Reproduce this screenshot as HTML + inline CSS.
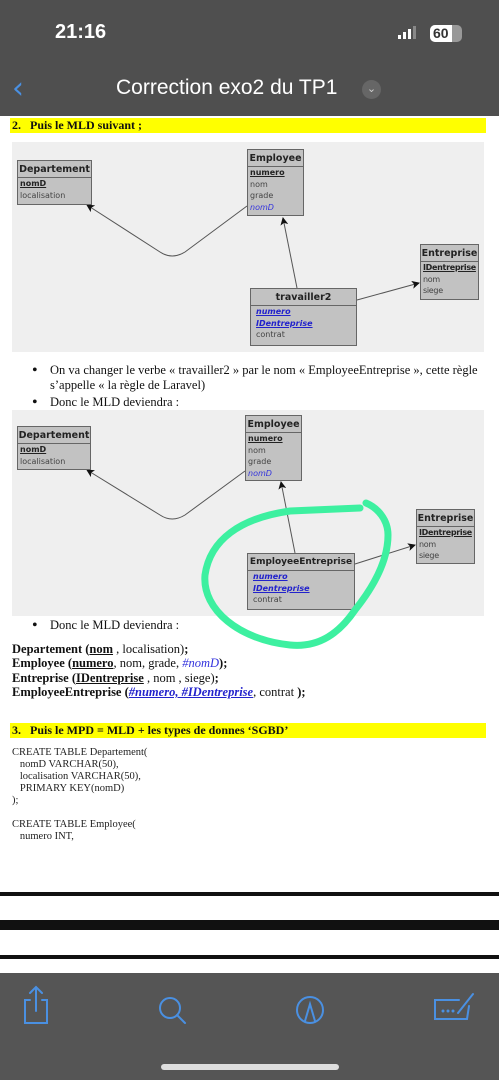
<!DOCTYPE html>
<html><head><meta charset="utf-8"><style>
*{margin:0;padding:0;box-sizing:border-box}
body{width:499px;height:1080px;position:relative;background:#fff;overflow:hidden;font-family:"Liberation Serif",serif;color:#111}
.a{position:absolute}
.hdr{left:0;top:0;width:499px;height:116px;background:#4f4f4f}
.y{background:#ffff00;font-weight:bold;font-size:12px;line-height:15px;padding-left:2px}
.bg{background:#efefef}
.bx{position:absolute;background:#c2c2c2;border:1px solid #666;font-family:"DejaVu Sans","Liberation Sans",sans-serif;font-size:8px;color:#444;line-height:11.5px;overflow:hidden;white-space:nowrap}
.bx .h{border-bottom:1px solid #666;text-align:center;font-weight:bold;color:#222;font-size:9.5px;height:17px;line-height:17px}
.bx .r{padding-left:2px}
.u{text-decoration:underline;font-weight:bold;color:#222}
.fk{color:#3333dd;font-style:italic}
.fku{color:#2222cc;font-style:italic;font-weight:bold;text-decoration:underline}
.t{font-size:12.5px;line-height:15px}
.bul{font-size:16px;line-height:15px}
.m{font-size:12.5px;line-height:14.5px;font-weight:bold}
.c{font-size:10.5px;line-height:12px;color:#222}
</style></head><body>
<div class="a hdr"></div>
<div class="a" style="left:55px;top:21px;color:#fff;font:600 20px 'Liberation Sans',sans-serif">21:16</div>
<div class="a" style="left:398px;top:35px;width:3px;height:4px;background:#fff"></div>
<div class="a" style="left:403px;top:32px;width:3px;height:7px;background:#fff"></div>
<div class="a" style="left:408px;top:29px;width:3px;height:10px;background:#fff"></div>
<div class="a" style="left:413px;top:26px;width:3px;height:13px;background:#888"></div>
<div class="a" style="left:430px;top:25px;width:32px;height:17px;border-radius:5px;background:#999"></div>
<div class="a" style="left:430px;top:25px;width:22px;height:17px;border-radius:5px 0 0 5px;background:#fff;color:#333;font:bold 14px/17px 'Liberation Sans',sans-serif;padding-left:3px">60</div>
<div class="a" style="left:12px;top:74px;color:#4a90e2;font:30px/30px 'DejaVu Sans',sans-serif">&#8249;</div>
<div class="a" style="left:116px;top:76px;color:#fff;font:21px 'Liberation Sans',sans-serif">Correction exo2 du TP1</div>
<div class="a" style="left:362px;top:80px;width:19px;height:19px;border-radius:50%;background:#666;color:#ccc;font:11px/19px sans-serif;text-align:center">&#8964;</div>

<div class="a y" style="left:10px;top:118px;width:476px;height:15px">2.&nbsp;&nbsp; Puis le MLD suivant ;</div>
<div class="a bg" style="left:12px;top:142px;width:472px;height:210px"></div>
<div class="a bg" style="left:12px;top:410px;width:472px;height:206px"></div>

<svg class="a" style="left:0;top:0" width="499" height="1080">
<defs><marker id="ar" markerWidth="8" markerHeight="8" refX="7" refY="4" orient="auto"><path d="M0,0 L8,4 L0,8 L2,4z" fill="#111"/></marker></defs>
<g stroke="#555" stroke-width="1" fill="none">
<path d="M247,206 L185,252 Q172,260 160,252 L87,205" marker-end="url(#ar)"/>
<path d="M297,288 L283,218" marker-end="url(#ar)"/>
<path d="M357,300 L419,283" marker-end="url(#ar)"/>
<path d="M245,471 L185,515 Q172,523 160,515 L87,470" marker-end="url(#ar)"/>
<path d="M295,553 L281,482" marker-end="url(#ar)"/>
<path d="M355,564 L415,545" marker-end="url(#ar)"/>
</g>
</svg>

<div class="bx" style="left:17px;top:160px;width:75px;height:45px"><div class="h">Departement</div><div class="r"><span class="u">nomD</span><br>localisation</div></div>
<div class="bx" style="left:247px;top:149px;width:57px;height:67px"><div class="h">Employee</div><div class="r"><span class="u">numero</span><br>nom<br>grade<br><span class="fk">nomD</span></div></div>
<div class="bx" style="left:420px;top:244px;width:59px;height:56px"><div class="h">Entreprise</div><div class="r" style="letter-spacing:-0.3px"><span class="u">IDentreprise</span><br>nom<br>siege</div></div>
<div class="bx" style="left:250px;top:288px;width:107px;height:58px"><div class="h">travailler2</div><div class="r" style="padding-left:5px"><span class="fku">numero</span><br><span class="fku">IDentreprise</span><br>contrat</div></div>

<div class="a bul" style="left:32px;top:363px">&#8226;</div>
<div class="a t" style="left:50px;top:363px;width:440px">On va changer le verbe « travailler2 » par le nom « EmployeeEntreprise », cette règle s’appelle « la règle de Laravel)</div>
<div class="a bul" style="left:32px;top:395px">&#8226;</div>
<div class="a t" style="left:50px;top:395px">Donc le MLD deviendra :</div>

<div class="bx" style="left:17px;top:426px;width:74px;height:44px"><div class="h">Departement</div><div class="r"><span class="u">nomD</span><br>localisation</div></div>
<div class="bx" style="left:245px;top:415px;width:57px;height:66px"><div class="h">Employee</div><div class="r"><span class="u">numero</span><br>nom<br>grade<br><span class="fk">nomD</span></div></div>
<div class="bx" style="left:416px;top:509px;width:59px;height:55px"><div class="h">Entreprise</div><div class="r" style="letter-spacing:-0.3px"><span class="u">IDentreprise</span><br>nom<br>siege</div></div>
<div class="bx" style="left:247px;top:553px;width:108px;height:57px"><div class="h" style="font-size:9px">EmployeeEntreprise</div><div class="r" style="padding-left:5px"><span class="fku">numero</span><br><span class="fku">IDentreprise</span><br>contrat</div></div>

<svg class="a" style="left:0;top:0" width="499" height="1080">
<path d="M360,508 L290,511 C240,518 210,540 205,575 C202,610 240,640 290,645 C320,648 340,632 355,610 C375,585 388,560 388,535 C388,520 378,508 366,503" fill="none" stroke="#3df0a0" stroke-width="7" stroke-linecap="round"/>
</svg>

<div class="a bul" style="left:32px;top:618px">&#8226;</div>
<div class="a t" style="left:50px;top:618px">Donc le MLD deviendra :</div>

<div class="a m" style="left:12px;top:642px">Departement (<u>nom</u> <span style="font-weight:normal">, localisation)</span>;</div>
<div class="a m" style="left:12px;top:656px">Employee (<u>numero</u><span style="font-weight:normal">, nom, grade, </span><i style="font-weight:normal;color:#3333dd">#nomD</i>);</div>
<div class="a m" style="left:12px;top:670.5px">Entreprise (<u>IDentreprise</u> <span style="font-weight:normal">, nom , siege)</span>;</div>
<div class="a m" style="left:12px;top:685px">EmployeeEntreprise (<i style="color:#2222cc;text-decoration:underline">#numero, #IDentreprise</i><span style="font-weight:normal">, contrat </span>);</div>

<div class="a y" style="left:10px;top:723px;width:476px;height:15px">3.&nbsp;&nbsp; Puis le MPD = MLD + les types de donnes ‘SGBD’</div>
<div class="a c" style="left:12px;top:747px">CREATE TABLE Departement(<br>&nbsp;&nbsp;&nbsp;nomD VARCHAR(50),<br>&nbsp;&nbsp;&nbsp;localisation VARCHAR(50),<br>&nbsp;&nbsp;&nbsp;PRIMARY KEY(nomD)<br>);</div>
<div class="a c" style="left:12px;top:819px">CREATE TABLE Employee(<br>&nbsp;&nbsp;&nbsp;numero INT,</div>

<div class="a" style="left:0;top:892px;width:499px;height:4px;background:#111"></div>
<div class="a" style="left:0;top:920px;width:499px;height:10px;background:#111"></div>
<div class="a" style="left:0;top:955px;width:499px;height:4px;background:#111"></div>
<div class="a" style="left:0;top:973px;width:499px;height:107px;background:#555"></div>
<svg class="a" style="left:0;top:973px" width="499" height="107">
<g stroke="#4a90e2" stroke-width="2" fill="none" stroke-linecap="round">
<path d="M30,27 L25,27 L25,50 L47,50 L47,27 L42,27 M36,14 L36,38 M30,20 L36,14 L42,20"/>
<circle cx="170" cy="35" r="10"/><path d="M177,42 L185,50"/>
<circle cx="310" cy="37" r="13"/><path d="M305,48 L310,31 L315,48"/>
<path d="M459,27 L435,27 L435,46 L467,46 L469,33 M458,40 L473,21"/>
</g>
<g fill="#4a90e2"><circle cx="443" cy="38" r="1.5"/><circle cx="448" cy="38" r="1.5"/><circle cx="453" cy="38" r="1.5"/></g>
<rect x="161" y="91" width="178" height="6" rx="3" fill="#ddd"/>
</svg>
</body></html>
